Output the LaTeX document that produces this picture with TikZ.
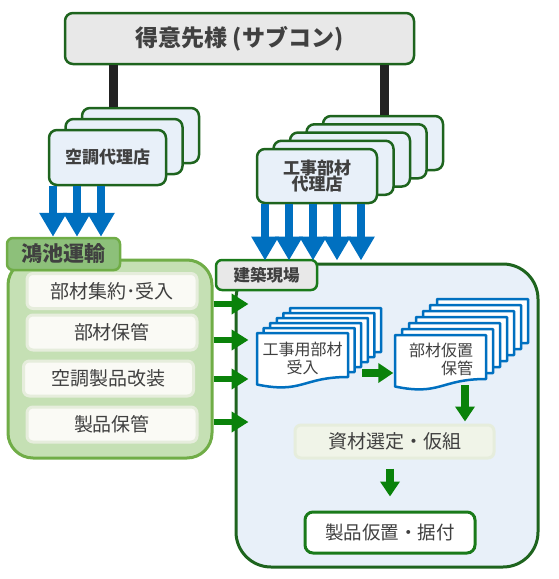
\documentclass[tikz,border=0pt]{standalone}
\usepackage{fontspec}
\setmainfont{Noto Sans CJK JP}
\usetikzlibrary{arrows.meta}

\definecolor{frame}{HTML}{1E641E}
\definecolor{labelframe}{HTML}{1A7A1A}
\definecolor{boxgray}{HTML}{E8E8E8}
\definecolor{paleblue}{HTML}{E8F0F9}
\definecolor{docblue}{HTML}{0070C0}
\definecolor{arrowgreen}{HTML}{0A820A}
\definecolor{koikefill}{HTML}{C5E0B4}
\definecolor{koikeframe}{HTML}{70AD47}
\definecolor{koikelabel}{HTML}{8DC07A}
\definecolor{itemfill}{HTML}{FAFAF5}
\definecolor{itemframe}{HTML}{E6EDDC}
\definecolor{shizaifill}{HTML}{F0F4E8}
\definecolor{textgray}{HTML}{404040}
\definecolor{bargray}{HTML}{222222}

\newcommand{\fs}[1]{\fontsize{#1}{#1}\selectfont}

\tikzset{
  agentbox/.style={draw=frame, line width=2.5pt, fill=paleblue, rounded corners=8pt,
    minimum width=117pt, minimum height=55pt, text=textgray, font=\fs{17}\bfseries, align=center},
  itembox/.style={draw=itemframe, line width=3pt, fill=itemfill, rounded corners=6pt,
    minimum width=170pt, minimum height=35pt, text=textgray, font=\fs{19}},
  tagbox/.style={line width=2.5pt, rounded corners=6pt, text=textgray, inner sep=0pt},
  docline/.style={draw=docblue, line width=2.5pt, fill=white, line join=round},
  bar/.style={draw=bargray, line width=9pt},
  bluearrow/.style={draw=docblue, line width=8pt, -{Triangle[width=26pt,length=24pt]}},
  greenarrow/.style={draw=arrowgreen, line width=6.5pt, -{Triangle[width=20pt,length=17pt]}},
  steparrow/.style={draw=arrowgreen, line width=8.5pt, -{Triangle[width=19pt,length=15pt]}},
  docpage/.pic={
    \draw[docline] (0,0) -- (91,0) -- (91,44) .. controls (45.5,44) and (45.5,61) .. (0,51.5) -- cycle;
  }
}

\begin{document}
\begin{tikzpicture}[x=1pt,y=-1pt]
  \useasboundingbox (0,0) rectangle (558,579);

  % 得意先様
  \node[draw=frame, line width=2.5pt, fill=boxgray, rounded corners=8pt, minimum width=349pt,
    minimum height=51pt, text=textgray, font=\fs{23}\bfseries] (client) at (239.5,38.5) {得意先様 (サブコン)};

  % 空調代理店
  \foreach \i in {2,1}{
    \node[agentbox] (kucho\i) at ({107.5+16.5*\i},{157.5-11*\i}) {};
  }
  \node[agentbox] (kucho) at (107.5,157.5) {空調代理店};

  % 工事部材代理店
  \foreach \i in {4,3,2,1}{
    \node[agentbox, minimum width=120pt, minimum height=54pt] (kouji\i) at ({317+16.5*\i},{176-8.25*\i}) {};
  }
  \node[agentbox, minimum width=120pt, minimum height=54pt] (kouji) at (317,176) {工事部材\\[-1pt]代理店};

  \draw[bar] (client.south -| 113,0) -- (kucho2.north -| 113,0);
  \draw[bar] (client.south -| 384,0) -- (kouji4.north -| 384,0);

  % 鴻池運輸
  \node[draw=koikeframe, line width=3pt, fill=koikefill, rounded corners=25pt,
    minimum width=204pt, minimum height=198pt] (koike) at (110,359) {};
  \node[tagbox, draw=koikeframe, fill=koikelabel, minimum width=113pt, minimum height=32pt,
    font=\fs{21}\bfseries] (koikelbl) at (63.5,254) {鴻池運輸};
  \foreach \n\y\x\t in {
      shuyaku/291/112/部材集約･受入,
      hokan/332.5/112/部材保管,
      kaiso/378.5/108.5/空調製品改装,
      seihinhokan/424.5/112/製品保管}{
    \node[itembox] (\n) at (\x,\y) {\t};
  }

  % 建築現場
  \node[draw=frame, line width=3pt, fill=paleblue, rounded corners=35pt,
    minimum width=302pt, minimum height=303pt] (site) at (387,415.5) {};
  \node[tagbox, draw=labelframe, fill=boxgray, minimum width=101pt, minimum height=30pt,
    font=\fs{16.5}\bfseries] (sitelbl) at (266.5,275) {建築現場};

  \foreach \x in {53,77,101}{
    \draw[bluearrow] (kucho.south -| \x,0) -- (koikelbl.north -| \x,0);
  }
  \foreach \x in {265,289,313,337,361}{
    \draw[bluearrow] (kouji.south -| \x,0) -- ([yshift=2pt]site.north -| \x,0);
  }
  \foreach \y in {304,340,379,422}{
    \draw[greenarrow] (koike.east |- 0,\y) -- ([xshift=14pt]site.west |- 0,\y);
  }

  % 工事用部材受入
  \foreach \i in {5,4,3,2,1}{
    \pic at ({257+6.6*\i},{333-5*\i}) {docpage};
  }
  \pic at (257,333) {docpage};
  \node[minimum width=91pt, minimum height=50pt, text=textgray, font=\fs{16}, align=center,
    inner sep=0pt] (ukeire) at (302.5,358) {工事用部材\\[2pt]受入};

  % 部材仮置保管
  \foreach \i in {6,5,4,3,2,1}{
    \pic at ({395+7*\i},{335-6*\i}) {docpage};
  }
  \pic at (395,335) {docpage};
  \node[minimum width=91pt, minimum height=50pt, text=textgray, font=\fs{16}, align=right,
    inner sep=0pt] (karioki) at (441,359) {部材仮置\\[2pt]保管};

  % 資材選定・仮組, 製品仮置・据付
  \node[draw=itemframe, line width=3pt, fill=shizaifill, rounded corners=6pt, minimum width=199pt,
    minimum height=33pt, text=textgray, font=\fs{19}] (shizai) at (394.5,441.5) {資材選定・仮組};
  \node[draw=labelframe, line width=3pt, fill=white, rounded corners=8pt, minimum width=170pt,
    minimum height=41pt, text=textgray, font=\fs{18.5}] (seihin) at (390,532.5) {製品仮置・据付};

  \draw[steparrow] ([xshift=14pt]ukeire.east |- 0,373) -- ([xshift=-2pt]karioki.west |- 0,373);
  \draw[steparrow] ([yshift=-1pt]karioki.south -| 465,0) -- ([yshift=2pt]shizai.north -| 465,0);
  \draw[steparrow] ([yshift=-9pt]shizai.south -| 390,0) -- ([yshift=14pt]seihin.north -| 390,0);

\end{tikzpicture}
\end{document}
